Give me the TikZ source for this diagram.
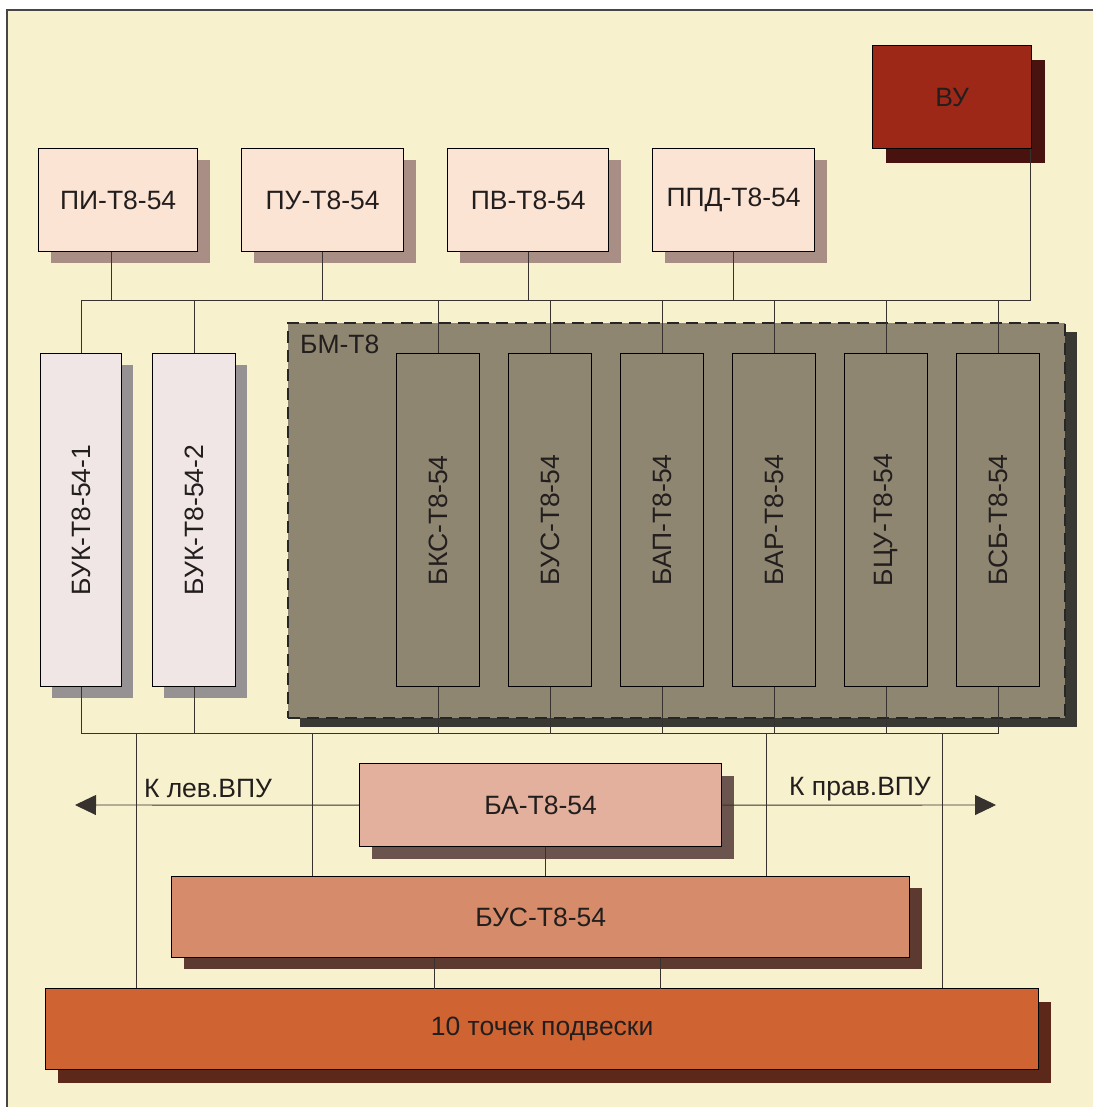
\documentclass[tikz,border=0pt]{standalone}
\usepackage{fontspec}
\usepackage{graphicx}
\setmainfont{Liberation Sans}
\usetikzlibrary{shadows,arrows.meta}

\definecolor{bg}{RGB}{247,241,206}
\definecolor{framecol}{RGB}{70,70,70}
\definecolor{txt}{RGB}{35,30,30}
\definecolor{linecol}{RGB}{55,50,45}
\definecolor{peach}{RGB}{252,228,212}
\definecolor{peachsh}{RGB}{168,142,132}
\definecolor{vured}{RGB}{158,40,24}
\definecolor{vush}{RGB}{72,18,14}
\definecolor{bukfill}{RGB}{240,230,230}
\definecolor{buksh}{RGB}{150,146,148}
\definecolor{bmfill}{RGB}{143,134,114}
\definecolor{bmsh}{RGB}{58,56,50}
\definecolor{bafill}{RGB}{226,176,156}
\definecolor{bash}{RGB}{108,84,78}
\definecolor{busfill}{RGB}{214,140,106}
\definecolor{bussh}{RGB}{92,58,48}
\definecolor{tenfill}{RGB}{207,100,50}
\definecolor{tensh}{RGB}{92,40,26}

\tikzset{
  blk/.style={draw=black, line width=1.3pt, inner sep=0pt, text=txt,
    font=\fontsize{26.5}{31}\selectfont, anchor=north west},
  conn/.style={draw=linecol, line width=0.9pt},
  lbl/.style={text=txt, font=\fontsize{26.5}{31}\selectfont, inner sep=0pt}
}

\begin{document}
\begin{tikzpicture}[x=1pt,y=-1pt]
\useasboundingbox (0,0) rectangle (1093,1107);
\fill[white] (0,0) rectangle (1093,1107);
\fill[bg] (7,10) rectangle (1093,1107);
\draw[framecol, line width=1.2pt] (7,1107) -- (7,10) -- (1093,10);

% top row
\node[blk, fill=vured, minimum width=159pt, minimum height=103pt,
  drop shadow={shadow xshift=13pt, shadow yshift=-14pt, fill=vush, opacity=1}] (vu) at (872,45) {ВУ};
\foreach \n/\x/\w/\t in {pi/38/159/ПИ-Т8-54, pu/241/162/ПУ-Т8-54, pv/447/161/ПВ-Т8-54, ppd/652/162/ППД-Т8-54}{
  \node[blk, fill=peach, minimum width=\w pt, minimum height=103pt,
    drop shadow={shadow xshift=12pt, shadow yshift=-11pt, fill=peachsh, opacity=1}] (\n) at (\x,148) {\t};
}

% BUK boxes
\foreach \n/\x/\w/\t in {buka/40/81/БУК-Т8-54-1, bukb/152/83/БУК-Т8-54-2}{
  \node[blk, fill=bukfill, minimum width=\w pt, minimum height=333pt,
    drop shadow={shadow xshift=11pt, shadow yshift=-11pt, fill=buksh, opacity=1}] (\n) at (\x,353) {\rotatebox{90}{\t}};
}

% BM-T8 group
\node[blk, draw=black!85, dash pattern=on 12pt off 7pt, line width=2pt, fill=bmfill,
  minimum width=777pt, minimum height=395pt,
  drop shadow={shadow xshift=12pt, shadow yshift=-9pt, fill=bmsh, opacity=1}] (bm) at (287,322) {};
\node[lbl, anchor=west] (bmlbl) at (300,344) {БМ-Т8};
\foreach \n/\x/\t in {bks/396/БКС-Т8-54, bus/508/БУС-Т8-54, bap/620/БАП-Т8-54, bar/732/БАР-Т8-54, bcu/844/БЦУ-Т8-54, bsb/956/БСБ-Т8-54}{
  \node[blk, fill=bmfill, minimum width=83pt, minimum height=333pt] (\n) at (\x,353) {\rotatebox{90}{\t}};
}

% lower blocks
\node[blk, fill=bafill, minimum width=362pt, minimum height=83pt,
  drop shadow={shadow xshift=12pt, shadow yshift=-12pt, fill=bash, opacity=1}] (ba) at (359,763) {БА-Т8-54};
\node[blk, fill=busfill, minimum width=738pt, minimum height=81pt,
  drop shadow={shadow xshift=12pt, shadow yshift=-11pt, fill=bussh, opacity=1}] (busb) at (171,876) {БУС-Т8-54};
\node[blk, fill=tenfill, minimum width=993pt, minimum height=81pt,
  drop shadow={shadow xshift=12pt, shadow yshift=-13pt, fill=tensh, opacity=1}] (ten) at (45,988) {10 точек подвески};

% labels
\node[lbl] (ll) at (208,789) {К лев.ВПУ};
\node[lbl] (rl) at (860,789) {К прав.ВПУ};

% coordinates
\coordinate (busL) at (0,300);
\coordinate (lbus) at (0,733);
\coordinate (vuc) at ([xshift=-2pt]vu.south east);
\coordinate (pic) at ([xshift=-7pt]pi.south);
\coordinate (larr) at (75,805);
\coordinate (rarr) at (996,805);
\coordinate (d1) at (136,733);
\coordinate (d2) at (312,733);
\coordinate (d3) at (766,733);
\coordinate (d4) at (942,733);

% upper bus
\draw[conn] (buka.north) |- (vuc |- busL) -- (vuc);
\draw[conn] (pic) -- (pic |- busL);
\foreach \n in {pu,pv,ppd}{ \draw[conn] (\n.south) -- (\n.south |- busL); }
\foreach \n in {bukb,bks,bus,bap,bar,bcu,bsb}{ \draw[conn] (\n.north) -- (\n.north |- busL); }

% lower bus
\draw[conn] (buka.south) |- (bsb.south |- lbus) -- (bsb.south);
\foreach \n in {bukb,bks,bus,bap,bar,bcu}{ \draw[conn] (\n.south) -- (\n.south |- lbus); }
\draw[conn] (d1) -- (d1 |- ten.north);
\draw[conn] (d4) -- (d4 |- ten.north);
\draw[conn] (d2) -- (d2 |- busb.north);
\draw[conn] (d3) -- (d3 |- busb.north);

% BA connections
\draw[conn, -{Triangle[length=21pt,width=20pt]}] (ba.west) -- (larr);
\draw[conn, -{Triangle[length=21pt,width=20pt]}] (ba.east) -- (rarr);
\draw[conn] ([xshift=5pt]ba.south) -- ([xshift=5pt]ba.south |- busb.north);
\draw[conn] ([xshift=-106pt]busb.south) -- ++(0,31);
\draw[conn] ([xshift=120pt]busb.south) -- ++(0,31);
\end{tikzpicture}
\end{document}
